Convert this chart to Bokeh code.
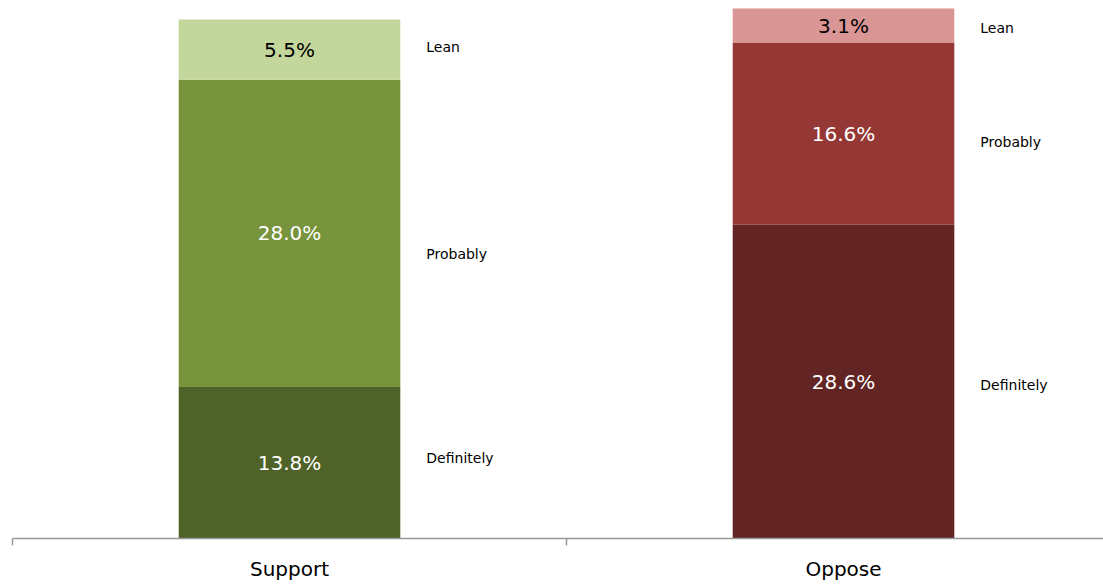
import numpy as np
from bokeh.plotting import figure
from bokeh.models import ColumnDataSource, FixedTicker, Range1d, CustomJSTickFormatter
from bokeh.core.properties import value
from bokeh.embed import file_html
from bokeh.resources import INLINE

# Survey shares (percent) by intensity, stacked from the bottom
groups = ["Support", "Oppose"]
levels = ["Definitely", "Probably", "Lean"]
support = [13.8, 28.0, 5.5]
oppose = [28.6, 16.6, 3.1]

# Styling
support_colors = ["#4F6228", "#77933C", "#C3D69B"]
oppose_colors = ["#632523", "#953735", "#D99694"]
value_text_colors = ["#FFFFFF", "#FFFFFF", "#000000"]
FONT = "DejaVu Sans"
# vertical placement of the level names beside each bar (percent units)
support_name_y = [7.3, 25.9, 44.8]
oppose_name_y = [14.0, 36.1, 46.5]

p = figure(width=1103, height=584, output_backend="svg", toolbar_location=None,
           x_range=Range1d(0, 1.9693), y_range=Range1d(0, 49.03),
           y_axis_location=None, min_border_left=12, min_border_right=0,
           min_border_top=0, min_border_bottom=46)
p.outline_line_color = None
p.xgrid.visible = False
p.ygrid.visible = False
p.background_fill_color = "white"
p.border_fill_color = "white"

bar_width = 0.4
for gi, (vals, cols, name_y) in enumerate([(support, support_colors, support_name_y),
                                             (oppose, oppose_colors, oppose_name_y)]):
    vals = np.array(vals, dtype=float)
    tops = np.cumsum(vals)
    bottoms = tops - vals
    xc = gi + 0.5
    src = ColumnDataSource(dict(
        x=[xc] * len(vals), bottom=bottoms, top=tops, mid=(bottoms + tops) / 2,
        color=cols, label=[f"{v:.1f}%" for v in vals], tcolor=value_text_colors,
        name=levels, name_x=[xc + bar_width / 2] * len(vals), name_y=name_y,
    ))
    p.vbar(x="x", bottom="bottom", top="top", width=bar_width, fill_color="color",
           line_color=None, source=src)
    p.text(x="x", y="mid", text="label", text_color="tcolor", text_align="center",
           text_baseline="middle", text_font=value(FONT), text_font_size="20px",
           source=src)
    p.text(x="name_x", y="name_y", text="name", text_color="#000000", text_align="left",
           text_baseline="middle", text_font=value(FONT), text_font_size="14px",
           x_offset=26, source=src)

ax = p.xaxis[0]
ax.ticker = FixedTicker(ticks=[0.5, 1.5], minor_ticks=[0, 1, 2])
ax.formatter = CustomJSTickFormatter(args=dict(names=groups),
                                     code="return names[Math.floor(tick)];")
ax.axis_line_color = "#999999"
ax.axis_line_width = 1.5
ax.major_tick_line_color = None
ax.major_tick_out = 0
ax.major_tick_in = 0
ax.minor_tick_line_color = "#999999"
ax.minor_tick_line_width = 1.5
ax.minor_tick_out = 7
ax.minor_tick_in = 0
ax.major_label_standoff = 11
ax.major_label_text_font = FONT
ax.major_label_text_font_size = "20px"
ax.major_label_text_color = "#000000"

open("out.html", "w").write(file_html(p, INLINE))
